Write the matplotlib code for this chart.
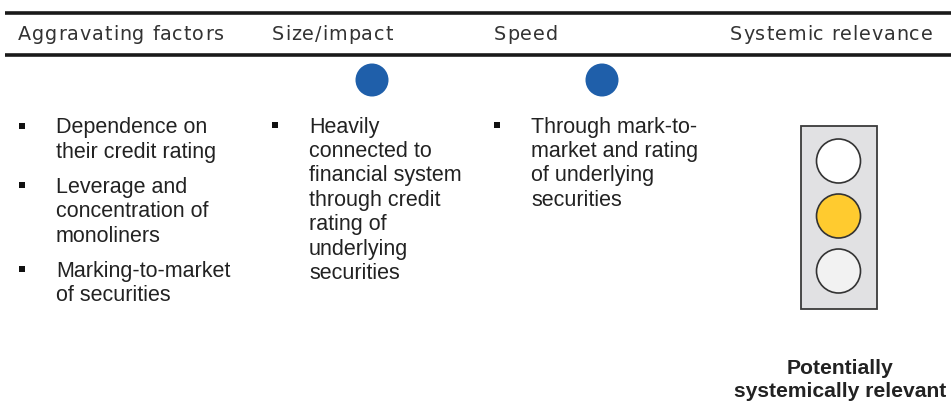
"""Monoliner assessment panel: aggravating factors, size, speed, traffic light."""
import matplotlib
matplotlib.use("Agg")
import matplotlib.pyplot as plt
from matplotlib.font_manager import FontProperties
from matplotlib.patches import Circle, Rectangle
from matplotlib.textpath import text_to_path

headers = ["Aggravating factors", "Size/impact", "Speed", "Systemic relevance"]
aggravating = [["Dependence on", "their credit rating"],
               ["Leverage and", "concentration of", "monoliners"],
               ["Marking-to-market", "of securities"]]
size_impact = [["Heavily", "connected to", "financial system", "through credit",
                "rating of", "underlying", "securities"]]
speed = [["Through mark-to-", "market and rating", "of underlying", "securities"]]
# rating dots shown for size and speed columns (1 = full)
ratings = [1, 1]
light_colors = ["white", "#FFCB2F", "#F2F2F2"]
verdict = ["Potentially", "systemically relevant"]

W, H = 951, 403
fig = plt.figure(figsize=(W / 100, H / 100), dpi=100)
ax = fig.add_axes([0, 0, 1, 1])
ax.set_xlim(0, W); ax.set_ylim(H, 0); ax.axis("off")

# header band
ax.plot([5, W], [13, 13], color="#1a1a1a", lw=2.6, solid_capstyle="butt")
ax.plot([5, W], [55, 55], color="#1a1a1a", lw=2.6, solid_capstyle="butt")

head_prop = FontProperties(family="DejaVu Sans", size=13.8)


def tracked(x, y, s, track):
    # header font in the original is letter-spaced, so place glyph by glyph
    bar = text_to_path.get_text_width_height_descent("|", head_prop, ismath=False)[0]
    for i, ch in enumerate(s):
        w = text_to_path.get_text_width_height_descent(s[:i] + "|", head_prop, ismath=False)[0] - bar
        ax.text(x + w * 100 / 72 + i * track, y, ch, fontproperties=head_prop,
                color="#333333", va="center", ha="left")


for x, h in zip([18, 272, 494, 730], headers):
    tracked(x, 34.5, h, 0.9)

# blue rating dots
for x, r in zip([372, 602], ratings):
    if r:
        ax.add_patch(Circle((x, 80), 16.5, color="#1F5FAA", lw=0))

body = dict(fontsize=15.5, family="Liberation Sans", color="#222222", va="center")
step = 24.4


def bullets(items, x_bullet, x_text, y0, gap):
    y = y0
    for item in items:
        ax.add_patch(Rectangle((x_bullet - 3, y - 5), 6, 6, color="#111111", lw=0))
        for line in item:
            ax.text(x_text, y, line, **body)
            y += step
        y += gap


bullets(aggravating, 22, 56, 128, 10.5)
bullets(size_impact, 275, 309, 127, 0)
bullets(speed, 497, 531, 127, 0)

# traffic light
ax.add_patch(Rectangle((801, 126), 76, 183, facecolor="#E1E1E3",
                       edgecolor="#3a3a3a", lw=1.3))
for y, c in zip([161, 216, 271], light_colors):
    ax.add_patch(Circle((838.5, y), 22, facecolor=c, edgecolor="#333333", lw=1.2))

for i, line in enumerate(verdict):
    ax.text(840, 368 + i * 23.5, line, fontsize=15.2, family="Liberation Sans",
            fontweight="bold", color="#222222", ha="center", va="center")

fig.savefig("out.png", dpi=100)
